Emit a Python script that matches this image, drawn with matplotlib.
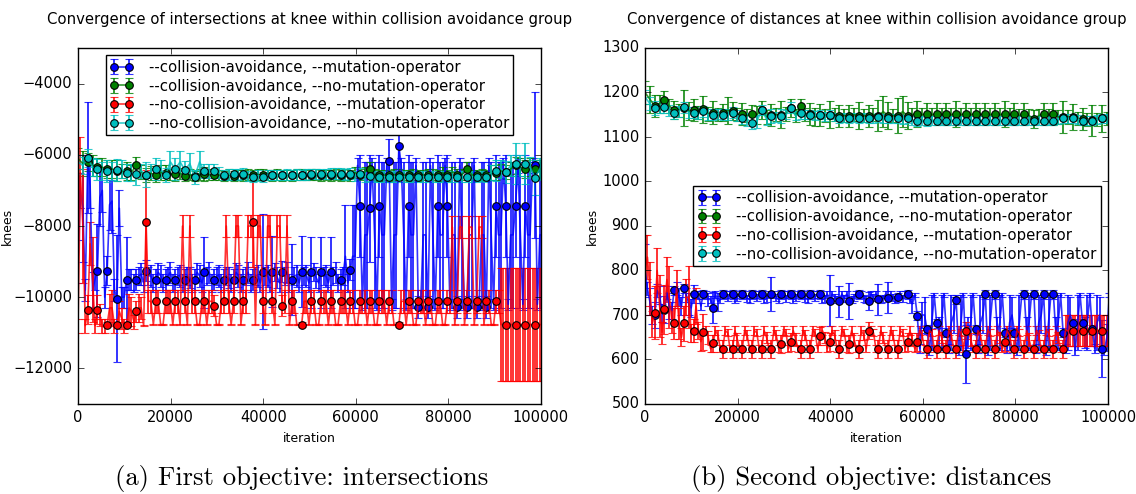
import numpy as np
import matplotlib
matplotlib.use("Agg")
import matplotlib.pyplot as plt

plt.style.use("classic")
plt.rcParams["figure.facecolor"] = "white"
plt.rcParams["savefig.facecolor"] = "white"
plt.rcParams["font.family"] = ["DejaVu Sans"]

# Сетка итераций: точка каждые 1050 итераций, маркер на каждой второй
iterations = np.arange(96) * 1050
# полусетка для шумных рядов (между точками основной сетки)
half_iterations = iterations + 525

labels = ["--collision-avoidance, --mutation-operator",
          "--collision-avoidance, --no-mutation-operator",
          "--no-collision-avoidance, --mutation-operator",
          "--no-collision-avoidance, --no-mutation-operator"]

# ---------- первый критерий: intersections (значения в маркерах и между ними)
blue_int_mark = [
    -6080, -9250, -9250, -10040, -9510, -9510, -9250, -9510, -9510, -9510,
    -9510, -9510, -9305, -9510, -9510, -9510, -9510, -9510, -9280, -9280,
    -9280, -9510, -9280, -9300, -9300, -9300, -9510, -9230, -7430, -7500,
    -7430, -6170, -5750, -7430, -10275, -10275, -7430, -7430, -10275, -10275,
    -10275, -10275, -7430, -7430, -7430, -7430, -6300]
blue_int_mark_err = [
    1560, 1300, 400, 1780, 1210, 300, 300, 300, 300, 300,
    300, 300, 1000, 300, 300, 300, 300, 300, 1620, 1000,
    300, 1000, 1000, 1000, 1000, 1000, 300, 300, 1430, 1500,
    1430, 600, 900, 1430, 300, 300, 1430, 1430, 300, 300,
    300, 300, 1430, 1430, 1430, 1430, 2050]
blue_int_mid = [
    -9000, -7500, -9800, -7000, -7300, -10000, -9510, -9350, -9400, -9400,
    -9300, -9400, -9450, -9400, -9300, -9400, -9450, -9400, -9300, -9400,
    -9400, -9450, -9300, -9400, -9400, -9450, -9400, -9300, -8850, -8850,
    -8250, -8250, -8250, -8250, -8250, -8250, -8250, -8250, -8250, -8250,
    -8250, -8250, -8250, -8250, -8250, -8250, -8250, -8250, -8250]
blue_int_mid_err = [
    600, 1500, 500, 600, 900, 300, 300, 300, 300, 300,
    300, 300, 300, 300, 300, 300, 300, 300, 300, 300,
    300, 300, 300, 300, 300, 300, 300, 300, 1450, 1450,
    2050, 2050, 2050, 2050, 2050, 2050, 2050, 2050, 2050, 2050,
    2050, 2050, 2050, 2050, 2050, 2050, 2050, 2050, 2050]
blue_int_half = [
    -7000, -9800, -6900, -9500, -7200, -10000, -7400, -9800, -7500, -10000,
    -9510, -9600, -9400, -9600, -9400, -9600, -9300, -9600, -9400, -9600,
    -9400, -9600, -9400, -9600, -9300, -9600, -9400, -9600, -9400, -9600,
    -9400, -9600, -9300, -9600, -9400, -9600, -9400, -9600, -9400, -9600,
    -9300, -9600, -9400, -9600, -9400, -9600, -9400, -9600, -9300, -9600,
    -9400, -9600, -9400, -9600, -9400, -9600, -8850, -6300, -10200, -8250,
    -6300, -10200, -8250, -6300, -10200, -8250, -6300, -10200, -8250, -6300,
    -10200, -8250, -6300, -10200, -8250, -6300, -10200, -8250, -6300, -10200,
    -8250, -6300, -10200, -8250, -6300, -10200, -8250, -6300, -10200, -8250,
    -6300, -10200, -8250, -6300, -10200, -8250]
blue_int_half_err = [
    500, 300, 600, 300, 800, 300, 700, 300, 500, 300,
    300, 250, 250, 250, 250, 250, 250, 250, 250, 250,
    250, 250, 250, 250, 250, 250, 250, 250, 250, 250,
    250, 250, 250, 250, 250, 250, 250, 250, 250, 250,
    250, 250, 250, 250, 250, 250, 250, 250, 250, 250,
    250, 250, 250, 250, 250, 250, 1450, 200, 150, 2050,
    200, 150, 2050, 200, 150, 2050, 200, 150, 2050, 200,
    150, 2050, 200, 150, 2050, 200, 150, 2050, 200, 150,
    2050, 200, 150, 2050, 200, 150, 2050, 200, 150, 2050,
    200, 150, 2050, 200, 150, 2050]

green_int_mark = [
    -6200, -6350, -6400, -6450, -6450, -6275, -6570, -6560, -6500, -6550,
    -6600, -6600, -6550, -6560, -6600, -6600, -6580, -6580, -6560, -6580,
    -6580, -6580, -6560, -6560, -6580, -6580, -6580, -6580, -6560, -6390,
    -6580, -6580, -6560, -6580, -6580, -6560, -6580, -6580, -6560, -6390,
    -6580, -6580, -6500, -6480, -6300, -6390, -6390]
green_int_mark_err = [
    250, 250, 250, 300, 250, 200, 200, 200, 200, 200,
    150, 150, 200, 150, 150, 150, 150, 150, 150, 150,
    150, 150, 150, 150, 150, 150, 150, 150, 150, 200,
    150, 150, 150, 150, 150, 150, 150, 150, 150, 200,
    150, 150, 200, 200, 250, 250, 250]
green_int_mid = [
    -6100, -6250, -6300, -6350, -6400, -6450, -6500, -6480, -6520, -6500,
    -6550, -6520, -6560, -6550, -6560, -6570, -6560, -6570, -6560, -6560,
    -6570, -6560, -6570, -6560, -6570, -6560, -6570, -6560, -6560, -6500,
    -6480, -6560, -6570, -6560, -6570, -6560, -6570, -6560, -6500, -6480,
    -6560, -6570, -6560, -6500, -6450, -6400, -6350, -6350, -6400]
green_int_mid_err = [
    300, 350, 300, 250, 250, 200, 200, 200, 200, 200,
    150, 150, 150, 150, 150, 150, 150, 150, 150, 150,
    150, 150, 150, 150, 150, 150, 150, 150, 150, 150,
    150, 150, 150, 150, 150, 150, 150, 150, 150, 150,
    150, 150, 150, 200, 200, 200, 250, 250, 250]

red_int_mark = [
    -10350, -10350, -10770, -10770, -10770, -10400, -7880, -10115, -10115, -10115,
    -10115, -10115, -10115, -10240, -10115, -10115, -10115, -7880, -10115, -10115,
    -10240, -10115, -10770, -10115, -10115, -10115, -10115, -10115, -10115, -10115,
    -10115, -10115, -10770, -10115, -10115, -10115, -10115, -10115, -10115, -10115,
    -10115, -10115, -10115, -10770, -10770, -10770, -10770]
red_int_mark_err = [
    400, 400, 60, 60, 60, 300, 1450, 320, 320, 320,
    320, 320, 320, 300, 320, 320, 320, 1260, 320, 320,
    300, 320, 60, 320, 320, 320, 320, 320, 320, 320,
    320, 320, 60, 320, 320, 320, 320, 320, 320, 320,
    320, 320, 320, 1580, 1580, 1580, 1580]
red_int_mid = [
    -10800, -8000, -9500, -10800, -10300, -10600, -10400, -10300, -10115, -10770,
    -10115, -10770, -8000, -10770, -10115, -10770, -10115, -8000, -8000, -8000,
    -8000, -8000, -8000, -10770, -10115, -10770, -10115, -10770, -10115, -10770,
    -10115, -10770, -10115, -10770, -10115, -10770, -10115, -10770, -10770, -8030,
    -8030, -8030, -8030, -10770, -10770, -10770, -10770, -10770, -10770]
red_int_mid_err = [
    200, 1600, 1200, 200, 500, 300, 400, 300, 320, 20,
    320, 20, 300, 20, 320, 20, 320, 300, 300, 300,
    300, 300, 300, 20, 320, 20, 320, 20, 320, 20,
    320, 20, 320, 20, 320, 20, 320, 20, 20, 300,
    300, 300, 300, 20, 1580, 1580, 1580, 1580, 1580]
red_int_half = [
    -6500, -10800, -8500, -10800, -10500, -10800, -10300, -10800, -10400, -10800,
    -10300, -10700, -10300, -10800, -10115, -10770, -10115, -10770, -10115, -10770,
    -10115, -8000, -10770, -10115, -10770, -10115, -10770, -10115, -10770, -10115,
    -8000, -10770, -8000, -10770, -10115, -8000, -10770, -8000, -10770, -8000,
    -10770, -8000, -10115, -10770, -10115, -10770, -10115, -10770, -10115, -10770,
    -10115, -10770, -10115, -10770, -10115, -10770, -10115, -10770, -10115, -10770,
    -10115, -10770, -10115, -10770, -10115, -10770, -10115, -10770, -10115, -10770,
    -10115, -10770, -10115, -10770, -10115, -10770, -10115, -10770, -8030, -10770,
    -8030, -10770, -8030, -10770, -10115, -10770, -10115, -10770, -10770, -10770,
    -10770, -10770, -10770, -10770, -10770, -10770]
red_int_half_err = [
    1000, 200, 600, 200, 300, 200, 400, 200, 300, 200,
    400, 200, 400, 20, 320, 20, 320, 20, 320, 20,
    320, 300, 20, 320, 20, 320, 20, 320, 20, 320,
    300, 20, 300, 20, 320, 300, 20, 300, 20, 300,
    20, 300, 320, 20, 320, 20, 320, 20, 320, 20,
    320, 20, 320, 20, 320, 20, 320, 20, 320, 20,
    320, 20, 320, 20, 320, 20, 320, 20, 320, 20,
    320, 20, 320, 20, 320, 20, 320, 20, 300, 20,
    300, 20, 300, 20, 320, 20, 320, 1580, 1580, 1580,
    1580, 1580, 1580, 1580, 1580, 1580]

cyan_int_mark = [
    -6080, -6410, -6460, -6430, -6500, -6540, -6560, -6400, -6570, -6400,
    -6430, -6620, -6460, -6460, -6570, -6540, -6530, -6620, -6620, -6570,
    -6570, -6570, -6570, -6540, -6540, -6530, -6530, -6530, -6530, -6600,
    -6620, -6620, -6620, -6620, -6620, -6620, -6620, -6620, -6620, -6620,
    -6620, -6620, -6450, -6480, -6250, -6250, -6640]
cyan_int_mark_err = [
    250, 300, 300, 300, 250, 300, 350, 300, 200, 300,
    250, 200, 200, 200, 150, 150, 150, 150, 150, 150,
    150, 150, 150, 150, 150, 150, 150, 150, 150, 150,
    150, 150, 150, 150, 150, 150, 150, 150, 150, 150,
    150, 150, 300, 300, 570, 570, 490]
cyan_int_mid = [
    -6200, -6300, -6350, -6450, -6450, -6400, -6500, -6450, -6450, -6400,
    -6200, -6200, -6250, -6200, -6450, -6500, -6550, -6550, -6600, -6580,
    -6570, -6570, -6560, -6560, -6550, -6540, -6540, -6530, -6560, -6600,
    -6610, -6610, -6610, -6610, -6610, -6610, -6610, -6610, -6610, -6610,
    -6610, -6610, -6600, -6500, -6400, -6300, -6300, -6350, -6400]
cyan_int_mid_err = [
    200, 250, 250, 250, 250, 250, 250, 200, 200, 250,
    300, 300, 300, 300, 200, 150, 150, 150, 150, 150,
    150, 150, 150, 150, 150, 150, 150, 150, 150, 150,
    150, 150, 150, 150, 150, 150, 150, 150, 150, 150,
    150, 150, 150, 200, 250, 300, 300, 300, 300]

# ---------- второй критерий: distances
blue_dist_mark = [
    700, 712, 756, 760, 747, 747, 716, 747, 747, 747,
    747, 747, 747, 747, 747, 747, 747, 747, 732, 731,
    731, 747, 731, 735, 739, 740, 747, 698, 668, 681,
    660, 734, 612, 668, 747, 747, 660, 660, 747, 747,
    747, 747, 660, 681, 681, 668, 624]
blue_dist_mark_err = [
    30, 30, 10, 10, 20, 10, 35, 10, 10, 10,
    10, 10, 38, 10, 10, 10, 10, 10, 57, 35,
    40, 10, 20, 35, 35, 10, 10, 10, 10, 10,
    10, 10, 65, 10, 10, 10, 10, 10, 10, 10,
    10, 10, 10, 10, 10, 10, 64]
blue_dist_mid = [
    800, 730, 745, 720, 740, 725, 745, 735, 730, 740,
    740, 738, 740, 738, 740, 738, 740, 738, 740, 738,
    740, 738, 740, 738, 740, 738, 740, 738, 725, 700,
    683, 683, 683, 683, 683, 683, 683, 683, 683, 683,
    683, 683, 683, 683, 683, 683, 683, 683, 650]
blue_dist_mid_err = [
    60, 30, 20, 30, 20, 25, 10, 15, 20, 8,
    8, 8, 8, 8, 8, 8, 8, 8, 8, 8,
    8, 8, 8, 8, 8, 8, 8, 8, 20, 30,
    62, 62, 62, 62, 62, 62, 62, 62, 62, 62,
    62, 62, 62, 62, 62, 62, 62, 62, 30]
blue_dist_half = [
    760, 700, 755, 705, 750, 710, 760, 720, 745, 716,
    747, 720, 747, 735, 747, 735, 747, 747, 735, 747,
    747, 735, 747, 747, 735, 747, 747, 735, 747, 747,
    735, 747, 747, 735, 747, 747, 735, 747, 747, 735,
    747, 747, 735, 747, 747, 735, 747, 747, 735, 747,
    747, 735, 747, 747, 735, 745, 625, 700, 620, 745,
    660, 745, 625, 700, 620, 745, 660, 745, 625, 700,
    620, 745, 660, 745, 625, 700, 620, 745, 660, 745,
    625, 700, 620, 745, 660, 745, 625, 700, 620, 745,
    660, 745, 625, 700, 620, 745]
blue_dist_half_err = [
    15, 20, 15, 20, 15, 20, 15, 20, 15, 20,
    8, 8, 8, 8, 8, 8, 8, 8, 8, 8,
    8, 8, 8, 8, 8, 8, 8, 8, 8, 8,
    8, 8, 8, 8, 8, 8, 8, 8, 8, 8,
    8, 8, 8, 8, 8, 8, 8, 8, 8, 8,
    8, 8, 8, 8, 8, 5, 10, 40, 10, 5,
    35, 5, 10, 40, 10, 5, 35, 5, 10, 40,
    10, 5, 35, 5, 10, 40, 10, 5, 35, 5,
    10, 40, 10, 5, 35, 5, 10, 40, 10, 5,
    35, 5, 10, 40, 10, 5]

green_dist_mark = [
    1170, 1183, 1160, 1165, 1160, 1162, 1155, 1155, 1158, 1152,
    1152, 1160, 1150, 1150, 1165, 1170, 1152, 1150, 1150, 1148,
    1148, 1148, 1148, 1148, 1148, 1148, 1148, 1152, 1152, 1152,
    1152, 1152, 1152, 1152, 1152, 1152, 1152, 1152, 1152, 1140,
    1152, 1152, 1145, 1145, 1140, 1138, 1142]
green_dist_mark_err = [
    25, 20, 20, 40, 25, 30, 25, 20, 20, 25,
    20, 20, 25, 30, 20, 15, 25, 25, 30, 25,
    25, 30, 25, 35, 30, 40, 30, 30, 25, 25,
    25, 30, 25, 25, 25, 25, 30, 25, 25, 20,
    25, 25, 35, 30, 25, 35, 30]
green_dist_mid = [
    1200, 1185, 1175, 1170, 1160, 1158, 1155, 1152, 1150, 1160,
    1150, 1148, 1150, 1145, 1150, 1152, 1148, 1150, 1145, 1148,
    1150, 1148, 1150, 1148, 1150, 1157, 1148, 1157, 1150, 1150,
    1150, 1150, 1150, 1150, 1150, 1150, 1150, 1150, 1150, 1148,
    1148, 1148, 1148, 1145, 1145, 1142, 1140, 1140, 1142]
green_dist_mid_err = [
    25, 30, 20, 15, 15, 20, 15, 15, 15, 30,
    15, 15, 20, 15, 15, 15, 15, 15, 20, 15,
    15, 15, 15, 15, 15, 35, 15, 35, 15, 15,
    15, 15, 15, 15, 15, 15, 15, 15, 15, 15,
    15, 15, 15, 15, 15, 15, 15, 15, 15]

red_dist_mark = [
    705, 713, 681, 681, 665, 662, 636, 624, 624, 624,
    624, 624, 624, 634, 640, 624, 624, 652, 640, 624,
    634, 624, 665, 624, 624, 624, 640, 640, 624, 624,
    624, 624, 665, 624, 624, 624, 640, 624, 624, 624,
    624, 624, 624, 665, 665, 665, 665]
red_dist_mark_err = [
    60, 55, 35, 40, 25, 40, 20, 20, 20, 20,
    20, 20, 20, 20, 20, 20, 20, 20, 20, 20,
    20, 20, 20, 20, 20, 20, 20, 20, 20, 20,
    20, 20, 20, 20, 20, 20, 20, 20, 20, 20,
    20, 20, 20, 35, 35, 35, 35]
red_dist_mid = [
    800, 760, 720, 740, 680, 740, 665, 650, 655, 660,
    645, 655, 660, 650, 655, 660, 645, 655, 660, 650,
    655, 660, 645, 655, 660, 650, 655, 660, 645, 655,
    660, 650, 655, 660, 645, 655, 660, 650, 655, 660,
    645, 655, 660, 650, 665, 665, 665, 665, 665]
red_dist_mid_err = [
    80, 60, 70, 70, 35, 70, 20, 15, 12, 8,
    15, 12, 8, 12, 12, 8, 15, 12, 8, 12,
    12, 8, 15, 12, 8, 12, 12, 8, 15, 12,
    8, 12, 12, 8, 15, 12, 8, 12, 12, 8,
    15, 12, 8, 12, 35, 35, 35, 35, 35]
red_dist_half = [
    830, 680, 800, 660, 780, 690, 760, 650, 740, 660,
    720, 640, 665, 624, 665, 624, 665, 624, 665, 624,
    665, 624, 665, 624, 665, 624, 665, 624, 665, 624,
    665, 624, 665, 624, 665, 624, 665, 624, 665, 624,
    665, 624, 665, 624, 665, 624, 665, 624, 665, 624,
    665, 624, 665, 624, 665, 624, 665, 624, 665, 624,
    665, 624, 665, 624, 665, 624, 665, 624, 665, 624,
    665, 624, 665, 624, 665, 624, 665, 624, 665, 624,
    665, 624, 665, 624, 665, 624, 665, 665, 665, 665,
    665, 665, 665, 665, 665, 665]
red_dist_half_err = [
    50, 30, 50, 25, 50, 30, 40, 20, 40, 20,
    40, 20, 10, 8, 10, 8, 10, 8, 10, 8,
    10, 8, 10, 8, 10, 8, 10, 8, 10, 8,
    10, 8, 10, 8, 10, 8, 10, 8, 10, 8,
    10, 8, 10, 8, 10, 8, 10, 8, 10, 8,
    10, 8, 10, 8, 10, 8, 10, 8, 10, 8,
    10, 8, 10, 8, 10, 8, 10, 8, 10, 8,
    10, 8, 10, 8, 10, 8, 10, 8, 10, 8,
    10, 8, 10, 8, 10, 8, 35, 35, 35, 35,
    35, 35, 35, 35, 35, 35]

cyan_dist_mark = [
    1165, 1167, 1153, 1167, 1155, 1158, 1150, 1150, 1155, 1142,
    1132, 1161, 1147, 1147, 1166, 1153, 1150, 1150, 1150, 1142,
    1142, 1142, 1142, 1144, 1142, 1142, 1142, 1135, 1135, 1137,
    1137, 1137, 1137, 1137, 1137, 1137, 1137, 1137, 1137, 1137,
    1137, 1137, 1142, 1142, 1137, 1137, 1142]
cyan_dist_mark_err = [
    15, 12, 12, 12, 12, 12, 12, 12, 12, 12,
    15, 12, 15, 15, 12, 12, 10, 10, 10, 10,
    10, 10, 10, 10, 10, 10, 10, 10, 10, 10,
    10, 10, 10, 10, 10, 10, 10, 10, 10, 10,
    10, 10, 10, 10, 10, 10, 10]
cyan_dist_mid = [
    1190, 1175, 1165, 1160, 1158, 1155, 1152, 1150, 1152, 1150,
    1148, 1140, 1135, 1140, 1145, 1150, 1148, 1150, 1148, 1146,
    1145, 1144, 1143, 1143, 1142, 1142, 1142, 1140, 1138, 1137,
    1137, 1137, 1137, 1137, 1137, 1137, 1137, 1137, 1137, 1137,
    1137, 1137, 1138, 1140, 1142, 1140, 1138, 1140, 1142]
cyan_dist_mid_err = [
    15, 15, 12, 12, 12, 12, 12, 12, 12, 12,
    12, 15, 15, 12, 12, 10, 10, 10, 10, 10,
    10, 10, 10, 10, 10, 10, 10, 10, 10, 10,
    10, 10, 10, 10, 10, 10, 10, 10, 10, 10,
    10, 10, 10, 10, 10, 10, 10, 10, 10]

colors = [(0, 0, 1), (0, 0.5, 0), (1, 0, 0), (0, 0.75, 0.75)]


# Собираем плотный ряд: промежуточные точки чередуются с маркерами
def interleave(mid, mark):
    out = [mid[0]]
    for i in range(len(mark)):
        out += [mid[i + 1], mark[i]]
    out.append(mid[-1])
    return out


def build(mark, mark_err, mid, mid_err, half=None, half_err=None):
    x = list(iterations)
    y = interleave(mid, mark)
    e = interleave(mid_err, mark_err)
    is_mark = [j >= 2 and j % 2 == 0 for j in range(len(x))]
    if half is not None:
        x += list(half_iterations)
        y += list(half)
        e += list(half_err)
        is_mark += [False] * len(half)
    order = np.argsort(x, kind="stable")
    x = np.array(x, dtype=float)[order]
    y = np.array(y, dtype=float)[order]
    e = np.array(e, dtype=float)[order]
    marks = [i for i, o in enumerate(order) if is_mark[o]]
    return x, y, e, marks


def draw(ax, series, title, yticks, ylim, legend_loc, label_x):
    for args, c, lab in zip(series, colors, labels):
        x, y, e, marks = build(*args)
        ax.errorbar(x, y, yerr=e, color=c + (0.8,), ecolor=c + (0.8,),
                    lw=1.2, elinewidth=1.4, capsize=2.8, capthick=1.3,
                    marker="o", ms=5.5, mfc=c, mec="k", mew=0.8,
                    markevery=marks, label=lab)
    ax.set_xlim(0, 100000)
    ax.set_ylim(*ylim)
    ax.set_xticks([0, 20000, 40000, 60000, 80000, 100000])
    ax.set_yticks(yticks)
    ax.tick_params(labelsize=10.5)
    ax.set_xlabel("iteration", fontsize=9)
    ax.set_ylabel("knees", fontsize=9)
    ax.yaxis.set_label_coords(label_x, 0.5)
    ax.set_title(title, fontsize=10.7, pad=17)
    leg = ax.legend(loc=legend_loc, fontsize=10.7, numpoints=2, fancybox=False,
                    handlelength=1.6, handletextpad=1.0, labelspacing=0.25,
                    borderpad=0.3)
    for ln in leg.get_lines():
        ln.set_markevery(None)


fig = plt.figure(figsize=(11.36, 4.94), dpi=100)
ax1 = fig.add_axes([78 / 1136, 90 / 494, 463 / 1136, 356 / 494])
ax2 = fig.add_axes([645 / 1136, 90 / 494, 463 / 1136, 356 / 494])

draw(ax1,
     [(blue_int_mark, blue_int_mark_err, blue_int_mid, blue_int_mid_err,
       blue_int_half, blue_int_half_err),
      (green_int_mark, green_int_mark_err, green_int_mid, green_int_mid_err),
      (red_int_mark, red_int_mark_err, red_int_mid, red_int_mid_err,
       red_int_half, red_int_half_err),
      (cyan_int_mark, cyan_int_mark_err, cyan_int_mid, cyan_int_mid_err)],
     "Convergence of intersections at knee within collision avoidance group",
     [-12000, -10000, -8000, -6000, -4000], (-13000, -3000), "upper center",
     -0.138)

draw(ax2,
     [(blue_dist_mark, blue_dist_mark_err, blue_dist_mid, blue_dist_mid_err,
       blue_dist_half, blue_dist_half_err),
      (green_dist_mark, green_dist_mark_err, green_dist_mid, green_dist_mid_err),
      (red_dist_mark, red_dist_mark_err, red_dist_mid, red_dist_mid_err,
       red_dist_half, red_dist_half_err),
      (cyan_dist_mark, cyan_dist_mark_err, cyan_dist_mid, cyan_dist_mid_err)],
     "Convergence of distances at knee within collision avoidance group",
     [500, 600, 700, 800, 900, 1000, 1100, 1200, 1300], (500, 1300), "center right",
     -0.099)

# подписи как в статье
fig.text(302 / 1136, 1 - 478 / 494, "(a) First objective: intersections",
         family="cmr10", fontsize=19.2, ha="center", va="center")
fig.text(871 / 1136, 1 - 478 / 494, "(b) Second objective: distances",
         family="cmr10", fontsize=19.2, ha="center", va="center")

fig.savefig("out.png", dpi=100)
